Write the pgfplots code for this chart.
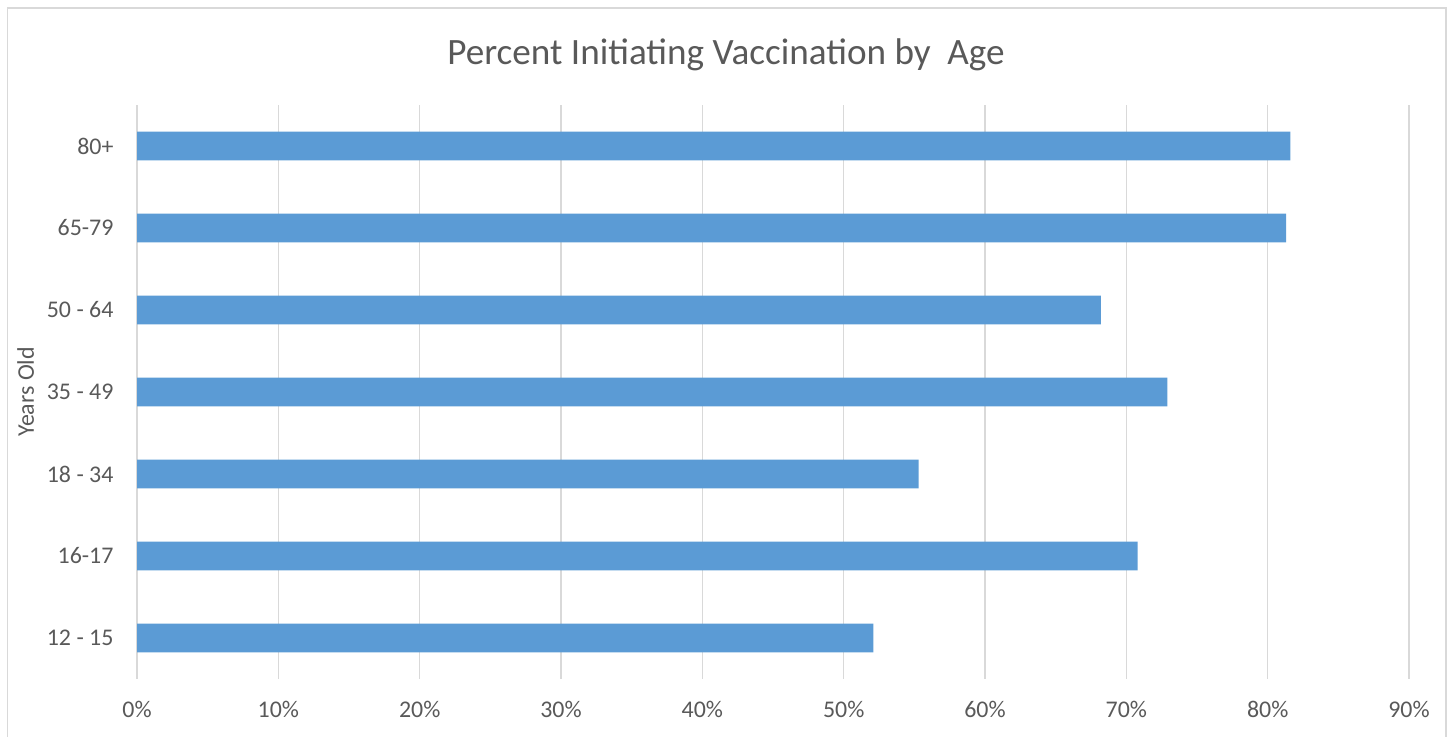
\documentclass[border=0pt]{standalone}
\usepackage{pgfplots}
\pgfplotsset{compat=1.18}
\usepackage{fontspec}
\setmainfont{Carlito}
\definecolor{barblue}{HTML}{5B9BD5}
\definecolor{gridgray}{HTML}{D9D9D9}
\definecolor{textgray}{HTML}{595959}
\begin{document}
\begin{tikzpicture}[x=1bp,y=1bp]
\useasboundingbox (0,0) rectangle (1453,736);
\draw[gridgray,line width=1.5bp] (7.5,728) rectangle (1446,-60);
\node[text=textgray,font=\fontsize{37.3}{40}\selectfont,anchor=base] at (726,736-65) {Percent Initiating Vaccination by\ \ Age};
\begin{axis}[
  at={(137bp,57bp)}, anchor=south west,
  scale only axis, width=1272bp, height=574bp,
  xbar, bar width=0.35,
  xmin=0, xmax=90, ymin=-0.5, ymax=6.5,
  xtick={0,10,...,90},
  xticklabel={\pgfmathprintnumber{\tick}\%},
  ytick={0,...,6},
  yticklabels={12 - 15,16-17,18 - 34,35 - 49,50 - 64,65-79,80+},
  xmajorgrids, major grid style={gridgray,line width=1.2bp},
  axis line style={draw=none},
  major tick length=0pt,
  tick label style={text=textgray,font=\fontsize{24}{27}\selectfont},
  /pgf/number format/assume math mode=true,
  xticklabel style={yshift=-19bp},
  yticklabel style={xshift=-20bp},
  ylabel={Years Old},
  every axis y label/.style={at={(ticklabel cs:0.5)},rotate=90,anchor=south,yshift=6bp,text=textgray,font=\fontsize{24}{27}\selectfont},
  clip=false,
]
\addplot[fill=barblue,draw=none] coordinates {
(52.1,0) (70.8,1) (55.3,2) (72.9,3) (68.2,4) (81.3,5) (81.6,6)
};
\end{axis}
\end{tikzpicture}
\end{document}
